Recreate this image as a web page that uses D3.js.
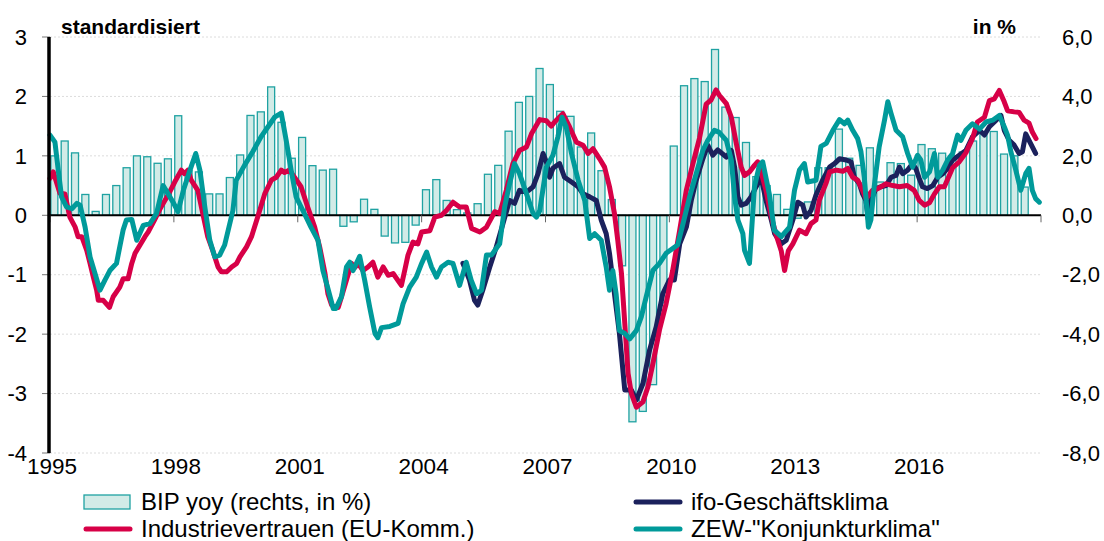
<!DOCTYPE html>
<html>
<head>
<meta charset="utf-8">
<script src="https://cdn.jsdelivr.net/npm/d3@7"></script>
<style>
  body { margin: 0; background: #fff; }
  svg { display: block; font-family: "Liberation Sans", Arial, sans-serif; }
</style>
</head>
<body>
<div id="chart"></div>
<script>
// quarterly GDP yoy in %, 1995Q1 .. 2018Q3 (right axis)
const gdpStart = 1995;
const gdpYoy = [
  2.0, 2.5, 2.1, 0.7,   0.13, 0.7, 1.0, 1.6,   2.0, 1.97, 1.75, 1.9,
  3.35, 1.5, 1.46, 0.72, 0.72, 1.27, 2.03, 3.36, 3.48, 4.32, 3.13, 1.92,
  2.62, 1.67, 1.52, 1.55, -0.37, -0.22, 0.54, 0.2, -0.7, -0.93, -0.91, -0.33,
  0.86, 1.2, 0.5, 0.19,  0.08, 0.39, 1.38, 1.68,  2.83, 3.8, 4.0, 4.94,
  4.4, 3.5, 3.33, 2.3,   2.77, 1.5, 0.53, -1.7,  -6.95, -6.6, -5.7, -2.95,
  2.33, 4.36, 4.6, 4.5,  5.58, 3.64, 3.29, 2.45,  1.3, 1.0, 0.7, 0.2,
  -0.1, 0.45, 1.6, 1.6,  2.9, 1.92, 1.68, 2.27,  1.12, 1.77, 1.74, 1.35,
  2.38, 2.24, 2.09, 2.0, 2.13, 2.5, 2.8, 2.82,   2.06, 2.0, 0.95
];

// standardised indicators, [decimal year, value] (left axis)
const ifo = [
  [2005.00,-0.81],[2005.16,-1.09],[2005.28,-1.43],[2005.36,-1.51],[2005.48,-1.26],[2005.65,-0.87],
  [2005.81,-0.53],[2005.97,-0.14],[2006.13,0.25],[2006.25,0.2],[2006.37,0.42],[2006.54,0.39],
  [2006.70,0.48],[2006.82,0.7],[2006.94,1.04],[2007.02,0.9],[2007.10,0.64],[2007.18,0.79],
  [2007.34,0.87],[2007.46,0.64],[2007.63,0.56],[2007.79,0.48],[2007.91,0.36],[2008.07,0.31],
  [2008.23,0.25],[2008.35,-0.08],[2008.47,-0.31],[2008.55,-0.64],[2008.67,-1.32],[2008.79,-1.99],
  [2008.92,-2.94],[2009.08,-2.94],[2009.20,-3.11],[2009.36,-2.83],[2009.52,-2.27],[2009.68,-1.88],
  [2009.84,-1.32],[2010.00,-1.09],[2010.12,-1.09],[2010.25,-0.48],[2010.41,-0.2],[2010.53,0.25],
  [2010.65,0.59],[2010.81,0.95],[2010.93,1.18],[2011.05,1.01],[2011.17,1.1],[2011.38,0.98],
  [2011.50,1.09],[2011.58,0.81],[2011.66,0.31],[2011.74,0.17],[2011.86,0.2],[2011.98,0.31],
  [2012.10,0.48],[2012.22,0.64],[2012.34,0.25],[2012.47,-0.08],[2012.55,-0.31],[2012.71,-0.48],
  [2012.83,-0.42],[2012.99,-0.08],[2013.11,0.22],[2013.23,0.17],[2013.31,-0.03],[2013.43,0.08],
  [2013.55,0.34],[2013.71,0.59],[2013.88,0.81],[2014.00,0.87],[2014.12,0.95],[2014.28,0.93],
  [2014.40,0.9],[2014.48,0.64],[2014.60,0.53],[2014.68,0.36],[2014.76,0.25],[2014.82,-0.08],
  [2014.88,0.25],[2015.00,0.45],[2015.12,0.48],[2015.25,0.5],[2015.37,0.64],[2015.49,0.67],
  [2015.57,0.81],[2015.65,0.7],[2015.77,0.76],[2015.89,0.87],[2015.97,0.78],[2016.05,0.62],
  [2016.13,0.48],[2016.25,0.45],[2016.38,0.5],[2016.50,0.64],[2016.62,0.7],[2016.74,0.79],
  [2016.86,0.93],[2017.02,1.01],[2017.18,1.09],[2017.34,1.32],[2017.51,1.43],[2017.63,1.35],
  [2017.75,1.49],[2017.87,1.57],[2018.03,1.68],[2018.11,1.43],[2018.23,1.26],[2018.35,1.18],
  [2018.47,1.04],[2018.55,1.07],[2018.63,1.37],[2018.71,1.26],[2018.79,1.15],[2018.87,1.04]
];

const industry = [
  [1995.00,0.62],[1995.08,0.73],[1995.24,0.37],[1995.36,0.36],[1995.48,-0.03],[1995.61,-0.2],
  [1995.68,-0.36],[1995.77,-0.36],[1995.89,-0.59],[1995.97,-0.81],[1996.05,-1.04],[1996.13,-1.26],
  [1996.17,-1.43],[1996.29,-1.43],[1996.44,-1.55],[1996.53,-1.37],[1996.69,-1.21],[1996.77,-1.07],
  [1996.89,-1.07],[1996.98,-0.81],[1997.06,-0.64],[1997.18,-0.5],[1997.30,-0.36],[1997.38,-0.28],
  [1997.53,-0.08],[1997.69,0.14],[1997.86,0.34],[1998.02,0.56],[1998.18,0.76],[1998.26,0.7],
  [1998.34,0.76],[1998.42,0.59],[1998.58,0.42],[1998.70,0.03],[1998.82,-0.36],[1998.94,-0.59],
  [1999.07,-0.87],[1999.15,-0.95],[1999.28,-0.95],[1999.40,-0.87],[1999.52,-0.81],[1999.60,-0.7],
  [1999.76,-0.53],[1999.88,-0.36],[2000.03,-0.03],[2000.20,0.36],[2000.36,0.59],[2000.48,0.64],
  [2000.60,0.76],[2000.68,0.72],[2000.80,0.76],[2000.92,0.64],[2001.08,0.48],[2001.24,0.14],
  [2001.41,-0.2],[2001.53,-0.53],[2001.66,-0.98],[2001.73,-1.32],[2001.82,-1.51],[2001.98,-1.55],
  [2002.06,-1.37],[2002.18,-1.09],[2002.30,-0.81],[2002.38,-0.88],[2002.46,-0.81],[2002.58,-0.93],
  [2002.70,-0.87],[2002.82,-0.79],[2002.94,-1.04],[2003.07,-0.87],[2003.19,-1.01],[2003.31,-0.98],
  [2003.51,-1.18],[2003.59,-0.93],[2003.67,-0.67],[2003.79,-0.45],[2003.91,-0.48],[2004.00,-0.28],
  [2004.20,-0.26],[2004.32,-0.03],[2004.48,0.0],[2004.60,0.08],[2004.76,0.22],[2004.92,0.14],
  [2005.08,0.14],[2005.21,-0.22],[2005.41,-0.28],[2005.57,-0.2],[2005.77,0.06],[2005.89,0.03],
  [2006.05,0.42],[2006.21,0.87],[2006.37,1.09],[2006.54,1.15],[2006.66,1.37],[2006.86,1.61],
  [2007.02,1.59],[2007.14,1.5],[2007.22,1.57],[2007.42,1.71],[2007.58,1.49],[2007.75,1.23],
  [2007.91,1.18],[2008.03,1.04],[2008.15,1.12],[2008.31,0.95],[2008.43,0.81],[2008.55,0.48],
  [2008.67,0.03],[2008.75,-0.42],[2008.84,-0.98],[2008.92,-1.82],[2009.00,-2.66],[2009.08,-3.0],
  [2009.20,-3.23],[2009.36,-3.14],[2009.48,-2.89],[2009.60,-2.5],[2009.76,-1.93],[2009.92,-1.49],
  [2010.08,-0.93],[2010.25,-0.25],[2010.41,0.42],[2010.57,0.87],[2010.73,1.3],[2010.89,1.87],
  [2011.01,1.94],[2011.13,2.11],[2011.21,2.02],[2011.38,1.88],[2011.50,1.65],[2011.62,1.21],
  [2011.74,0.81],[2011.82,0.67],[2011.94,0.73],[2012.06,0.84],[2012.14,0.9],[2012.22,0.73],
  [2012.34,0.42],[2012.47,-0.03],[2012.59,-0.34],[2012.71,-0.6],[2012.79,-0.93],[2012.88,-0.6],
  [2012.99,-0.48],[2013.15,-0.25],[2013.31,-0.31],[2013.43,-0.14],[2013.55,-0.08],[2013.63,0.25],
  [2013.80,0.55],[2013.88,0.73],[2014.04,0.76],[2014.20,0.74],[2014.32,0.79],[2014.44,0.64],
  [2014.56,0.59],[2014.68,0.42],[2014.76,0.28],[2014.92,0.42],[2015.05,0.45],[2015.25,0.53],
  [2015.41,0.5],[2015.57,0.48],[2015.76,0.5],[2015.93,0.42],[2016.05,0.25],[2016.18,0.17],
  [2016.30,0.21],[2016.42,0.36],[2016.54,0.48],[2016.66,0.48],[2016.86,0.8],[2017.02,0.9],
  [2017.18,1.05],[2017.34,1.29],[2017.46,1.57],[2017.63,1.65],[2017.75,1.93],[2017.87,1.96],
  [2017.99,2.1],[2018.11,1.91],[2018.19,1.76],[2018.35,1.74],[2018.47,1.73],[2018.59,1.6],
  [2018.71,1.55],[2018.79,1.4],[2018.88,1.29]
];

const zew = [
  [1995.00,1.35],[1995.12,1.23],[1995.20,0.76],[1995.28,0.31],[1995.40,0.14],[1995.53,0.11],
  [1995.65,0.2],[1995.73,0.17],[1995.85,-0.2],[1995.97,-0.7],[1996.09,-0.98],[1996.21,-1.26],
  [1996.33,-1.09],[1996.45,-0.93],[1996.61,-0.81],[1996.69,-0.53],[1996.77,-0.25],[1996.85,-0.08],
  [1996.98,-0.07],[1997.10,-0.42],[1997.26,-0.17],[1997.42,-0.14],[1997.58,0.03],[1997.74,0.5],
  [1997.86,0.36],[1997.98,0.22],[1998.10,0.06],[1998.23,0.42],[1998.39,0.76],[1998.53,1.04],
  [1998.63,0.76],[1998.75,0.14],[1998.87,-0.42],[1998.99,-0.7],[1999.11,-0.67],[1999.23,-0.5],
  [1999.43,0.08],[1999.51,0.59],[1999.71,0.84],[1999.91,1.07],[2000.11,1.32],[2000.28,1.49],
  [2000.44,1.65],[2000.60,1.72],[2000.72,1.26],[2000.84,0.76],[2000.96,0.31],[2001.16,0.03],
  [2001.32,-0.2],[2001.49,-0.42],[2001.61,-0.93],[2001.73,-1.23],[2001.86,-1.57],[2001.92,-1.57],
  [2002.06,-1.37],[2002.18,-0.87],[2002.26,-0.79],[2002.34,-0.93],[2002.50,-0.69],[2002.62,-1.09],
  [2002.74,-1.54],[2002.87,-1.99],[2002.94,-2.06],[2003.03,-1.89],[2003.23,-1.87],[2003.43,-1.82],
  [2003.55,-1.49],[2003.71,-1.21],[2003.87,-1.04],[2004.00,-0.81],[2004.12,-0.62],[2004.24,-0.87],
  [2004.36,-1.04],[2004.48,-0.87],[2004.64,-0.79],[2004.76,-0.81],[2004.92,-1.18],[2005.08,-0.79],
  [2005.20,-1.09],[2005.33,-1.32],[2005.45,-1.26],[2005.57,-0.67],[2005.69,-0.67],[2005.89,-0.48],
  [2006.01,0.14],[2006.13,0.53],[2006.25,0.87],[2006.37,0.7],[2006.54,0.36],[2006.70,0.03],
  [2006.78,-0.03],[2006.86,0.08],[2007.02,0.81],[2007.18,1.01],[2007.30,1.32],[2007.40,1.65],
  [2007.50,1.49],[2007.63,1.04],[2007.79,0.59],[2007.95,0.25],[2008.07,-0.39],[2008.19,-0.31],
  [2008.35,-0.42],[2008.47,-0.87],[2008.55,-1.26],[2008.63,-0.93],[2008.71,-1.32],[2008.79,-1.94],
  [2008.92,-1.99],[2009.04,-2.08],[2009.20,-1.94],[2009.32,-1.71],[2009.44,-1.37],[2009.60,-0.93],
  [2009.76,-0.81],[2009.92,-0.64],[2010.08,-0.56],[2010.20,-0.5],[2010.33,-0.14],[2010.49,0.31],
  [2010.65,0.7],[2010.81,1.09],[2010.93,1.26],[2011.09,1.43],[2011.20,1.4],[2011.38,1.26],
  [2011.50,0.93],[2011.58,0.31],[2011.66,-0.08],[2011.78,-0.31],[2011.82,-0.59],[2011.94,-0.81],
  [2012.06,0.48],[2012.18,0.84],[2012.26,0.9],[2012.42,0.36],[2012.54,-0.25],[2012.71,-0.36],
  [2012.91,-0.2],[2013.03,0.42],[2013.15,0.76],[2013.27,0.87],[2013.35,0.56],[2013.55,0.59],
  [2013.67,1.16],[2013.80,1.21],[2013.96,1.43],[2014.12,1.61],[2014.24,1.54],[2014.32,1.6],
  [2014.44,1.43],[2014.56,1.29],[2014.64,1.07],[2014.72,0.64],[2014.78,0.14],[2014.82,-0.2],
  [2014.88,-0.08],[2014.96,0.48],[2015.08,1.15],[2015.21,1.6],[2015.29,1.91],[2015.37,1.71],
  [2015.49,1.43],[2015.65,1.32],[2015.77,1.04],[2015.89,0.81],[2016.01,1.01],[2016.09,0.93],
  [2016.18,0.64],[2016.30,0.73],[2016.42,1.04],[2016.50,0.64],[2016.62,0.76],[2016.74,0.93],
  [2016.86,1.04],[2016.98,1.35],[2017.06,1.26],[2017.18,1.43],[2017.34,1.54],[2017.51,1.45],
  [2017.67,1.57],[2017.83,1.6],[2017.99,1.68],[2018.11,1.49],[2018.19,1.35],[2018.27,1.07],
  [2018.39,0.76],[2018.51,0.42],[2018.63,0.7],[2018.71,0.79],[2018.79,0.42],[2018.87,0.28],
  [2018.96,0.22]
];

const leftTicks = [3, 2, 1, 0, -1, -2, -3, -4];
const rightTicks = [6, 4, 2, 0, -2, -4, -6, -8];
const yearTicks = [1995, 1998, 2001, 2004, 2007, 2010, 2013, 2016, 2019];
const yearLabels = [1995, 1998, 2001, 2004, 2007, 2010, 2013, 2016];

const legendItems = [
  { label: "BIP yoy (rechts, in %)", kind: "bar", col: 0, row: 0 },
  { label: "ifo-Geschäftsklima", kind: "ifo", col: 1, row: 0 },
  { label: "Industrievertrauen (EU-Komm.)", kind: "ind", col: 0, row: 1 },
  { label: "ZEW-\"Konjunkturklima\"", kind: "zew", col: 1, row: 1 }
];

const colors = {
  barFill: "#d2ebe7",
  barStroke: "#1fa2a2",
  ifo: "#1b215c",
  ind: "#d70047",
  zew: "#009a9a"
};

let width = 1104, height = 541;
let mLeft = 50, mRight = 1041, mTop = 37, mBottom = 453;

const svg = d3.select("#chart").append("svg")
  .attr("width", width)
  .attr("height", height);

const x = d3.scaleLinear().domain([1995, 2019]).range([mLeft, mRight]);
const yL = d3.scaleLinear().domain([-4, 3]).range([mBottom, mTop]);
const yR = d3.scaleLinear().domain([-8, 6]).range([mBottom, mTop]);

// gridlines
svg.append("g")
  .selectAll("line")
  .data(leftTicks)
  .join("line")
  .attr("x1", mLeft).attr("x2", mRight)
  .attr("y1", d => yL(d)).attr("y2", d => yL(d))
  .attr("stroke", "#dcdcdc")
  .attr("stroke-width", 1)
  .attr("stroke-dasharray", "2,2");

// GDP bars
const qw = x(1995.25) - x(1995);
svg.append("g")
  .selectAll("rect")
  .data(gdpYoy)
  .join("rect")
  .attr("x", (d, i) => x(gdpStart + i / 4) + qw * 0.5 - 4.3)
  .attr("width", 7)
  .attr("y", d => Math.min(yR(d), yR(0)))
  .attr("height", d => Math.abs(yR(d) - yR(0)))
  .attr("fill", colors.barFill)
  .attr("stroke", colors.barStroke)
  .attr("stroke-width", 1.3);

// zero line
svg.append("line")
  .attr("x1", mLeft).attr("x2", mRight)
  .attr("y1", yL(0)).attr("y2", yL(0))
  .attr("stroke", "#000").attr("stroke-width", 2);

// x ticks on the zero line
svg.append("g")
  .selectAll("line")
  .data(yearTicks)
  .join("line")
  .attr("x1", d => x(d)).attr("x2", d => x(d))
  .attr("y1", yL(0)).attr("y2", yL(0) + 7)
  .attr("stroke", "#666").attr("stroke-width", 1);

// lines
const line = d3.line()
  .x(d => x(d[0]))
  .y(d => yL(d[1]));

[[ifo, colors.ifo], [industry, colors.ind], [zew, colors.zew]].forEach(([data, c]) => {
  svg.append("path")
    .datum(data)
    .attr("d", line)
    .attr("fill", "none")
    .attr("stroke", c)
    .attr("stroke-width", 5)
    .attr("stroke-linejoin", "round")
    .attr("stroke-linecap", "round");
});

// left axis
svg.append("g")
  .selectAll("line")
  .data(leftTicks)
  .join("line")
  .attr("x1", mLeft - 8).attr("x2", mLeft)
  .attr("y1", d => yL(d)).attr("y2", d => yL(d))
  .attr("stroke", "#777").attr("stroke-width", 1);

svg.append("line")
  .attr("x1", mLeft - 1).attr("x2", mLeft - 1)
  .attr("y1", mTop).attr("y2", mBottom)
  .attr("stroke", "#000").attr("stroke-width", 3.5);

svg.append("g")
  .selectAll("text")
  .data(leftTicks)
  .join("text")
  .attr("x", 27)
  .attr("y", d => yL(d))
  .attr("dy", "0.35em")
  .attr("text-anchor", "end")
  .style("font-size", "22px")
  .text(d => d);

// right labels
const fmt = d => d3.format(".1f")(d).replace(".", ",").replace("−", "-");
svg.append("g")
  .selectAll("text")
  .data(rightTicks)
  .join("text")
  .attr("x", 1062)
  .attr("y", d => yR(d))
  .attr("dy", "0.35em")
  .attr("text-anchor", "start")
  .style("font-size", "22px")
  .text(fmt);

// year labels
svg.append("g")
  .selectAll("text")
  .data(yearLabels)
  .join("text")
  .attr("x", d => x(d) + 2)
  .attr("y", 474)
  .attr("text-anchor", "middle")
  .style("font-size", "22.5px")
  .text(d => d);

// titles
svg.append("text")
  .attr("x", 61).attr("y", 34)
  .style("font-size", "21px").style("font-weight", "bold")
  .text("standardisiert");
svg.append("text")
  .attr("x", 1016).attr("y", 34)
  .attr("text-anchor", "end")
  .style("font-size", "21px").style("font-weight", "bold")
  .text("in %");

// legend
const legend = svg.append("g");
const colX = [84, 634], rowY = [502, 529];
legendItems.forEach(it => {
  const gx = colX[it.col], gy = rowY[it.row];
  if (it.kind === "bar") {
    legend.append("rect")
      .attr("x", gx).attr("y", gy - 7)
      .attr("width", 46).attr("height", 14)
      .attr("fill", colors.barFill)
      .attr("stroke", colors.barStroke).attr("stroke-width", 1.3);
  } else {
    legend.append("line")
      .attr("x1", gx + 2).attr("x2", gx + 46)
      .attr("y1", gy).attr("y2", gy)
      .attr("stroke", colors[it.kind]).attr("stroke-width", 5)
      .attr("stroke-linecap", "round");
  }
  legend.append("text")
    .attr("x", gx + 57).attr("y", gy + 8)
    .style("font-size", "24px")
    .text(it.label);
});
</script>
</body>
</html>
